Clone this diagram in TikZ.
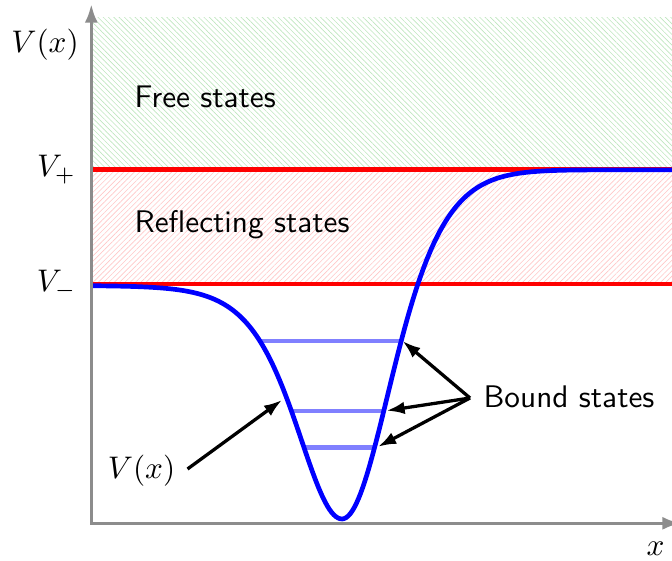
\documentclass[tikz,border=0pt]{standalone}
\usetikzlibrary{arrows.meta,patterns.meta}
\begin{document}
\begin{tikzpicture}[x=0.32pt,y=-0.32pt,
  axisline/.style={draw=black!45,line width=1.05pt,{Latex[length=6pt,width=4.2pt]}-{Latex[length=6pt,width=4.2pt]}},
  potcurve/.style={draw=blue,line width=1.5pt,line join=round},
  levelline/.style={draw=blue!50,line width=1.5pt},
  limitline/.style={draw=red,line width=1.5pt},
  ptrarrow/.style={draw=black,line width=1.05pt,-{Latex[length=5.8pt,width=4pt]}},
  hatchfree/.style={pattern={Lines[angle=-45,distance=1.2pt,line width=0.2pt]},pattern color=green!60!black!25},
  hatchrefl/.style={pattern={Lines[angle=45,distance=1.2pt,line width=0.2pt]},pattern color=red!22},
  txt/.style={inner sep=0pt,font=\sffamily},
  mth/.style={inner sep=0pt}]
\useasboundingbox (0,0) rectangle (672,561);
% hatched regions
\fill[hatchfree] (93,18) rectangle (672,169.5);
\fill[hatchrefl] (93,169.5) rectangle (672,284);
% limit lines
\coordinate (vpL) at (93,169.5);
\coordinate (vpR) at (672,169.5);
\coordinate (vmL) at (93,284);
\coordinate (vmR) at (672,284);
\draw[limitline] (vpL) -- (vpR);
\draw[limitline] (vmL) -- (vmR);
% bound state levels
\coordinate (l1a) at (259.5,341);
\coordinate (l1b) at (402.6,341);
\coordinate (l2a) at (291.4,411);
\coordinate (l2b) at (383.7,411);
\coordinate (l3a) at (304.1,447.5);
\coordinate (l3b) at (374.5,447.5);
\draw[levelline] (l1a) -- (l1b);
\draw[levelline] (l2a) -- (l2b);
\draw[levelline] (l3a) -- (l3b);
% potential curve
\draw[potcurve]
  plot[domain=93:342,samples=120] (\x,{285.5+233.5/(cosh((\x-342)/61)^2)})
  -- plot[domain=342:672,samples=160] (\x,{169.8+349.2/(cosh(min(5,(\x-342)/(67-((\x-342)/63.2)^2)))^2)});
% axes
\coordinate (ytop) at (91.3,4);
\coordinate (orig) at (91.3,523.3);
\coordinate (xend) at (681,523.3);
\draw[axisline] (ytop) -- (orig) -- (xend);
% labels
\node[mth,anchor=base] (vlabtop) at (45,53) {$V(x)$};
\node[mth,anchor=base] (vplus) at (56.5,176.5) {$V_+$};
\node[mth,anchor=base] (vminus) at (56.5,292) {$V_-$};
\node[mth,anchor=base] (xlab) at (655.5,555) {$x$};
\node[txt,anchor=base west] (free) at (134,108) {Free states};
\node[txt,anchor=base west] (refl) at (134,233) {Reflecting states};
\node[txt,anchor=base west] (bound) at (483,408) {Bound states};
\node[mth,anchor=base] (vlab) at (141.5,478) {$V(x)$};
% pointer arrows
\coordinate (bsfrom) at (470,398);
\coordinate (vfrom) at (187.5,469);
\coordinate (vto) at (282,400);
\draw[ptrarrow] (bsfrom) -- (l1b);
\draw[ptrarrow] (bsfrom) -- (386.5,410.7);
\draw[ptrarrow] (bsfrom) -- (378,446.8);
\draw[ptrarrow] (vfrom) -- (vto);
\end{tikzpicture}
\end{document}
